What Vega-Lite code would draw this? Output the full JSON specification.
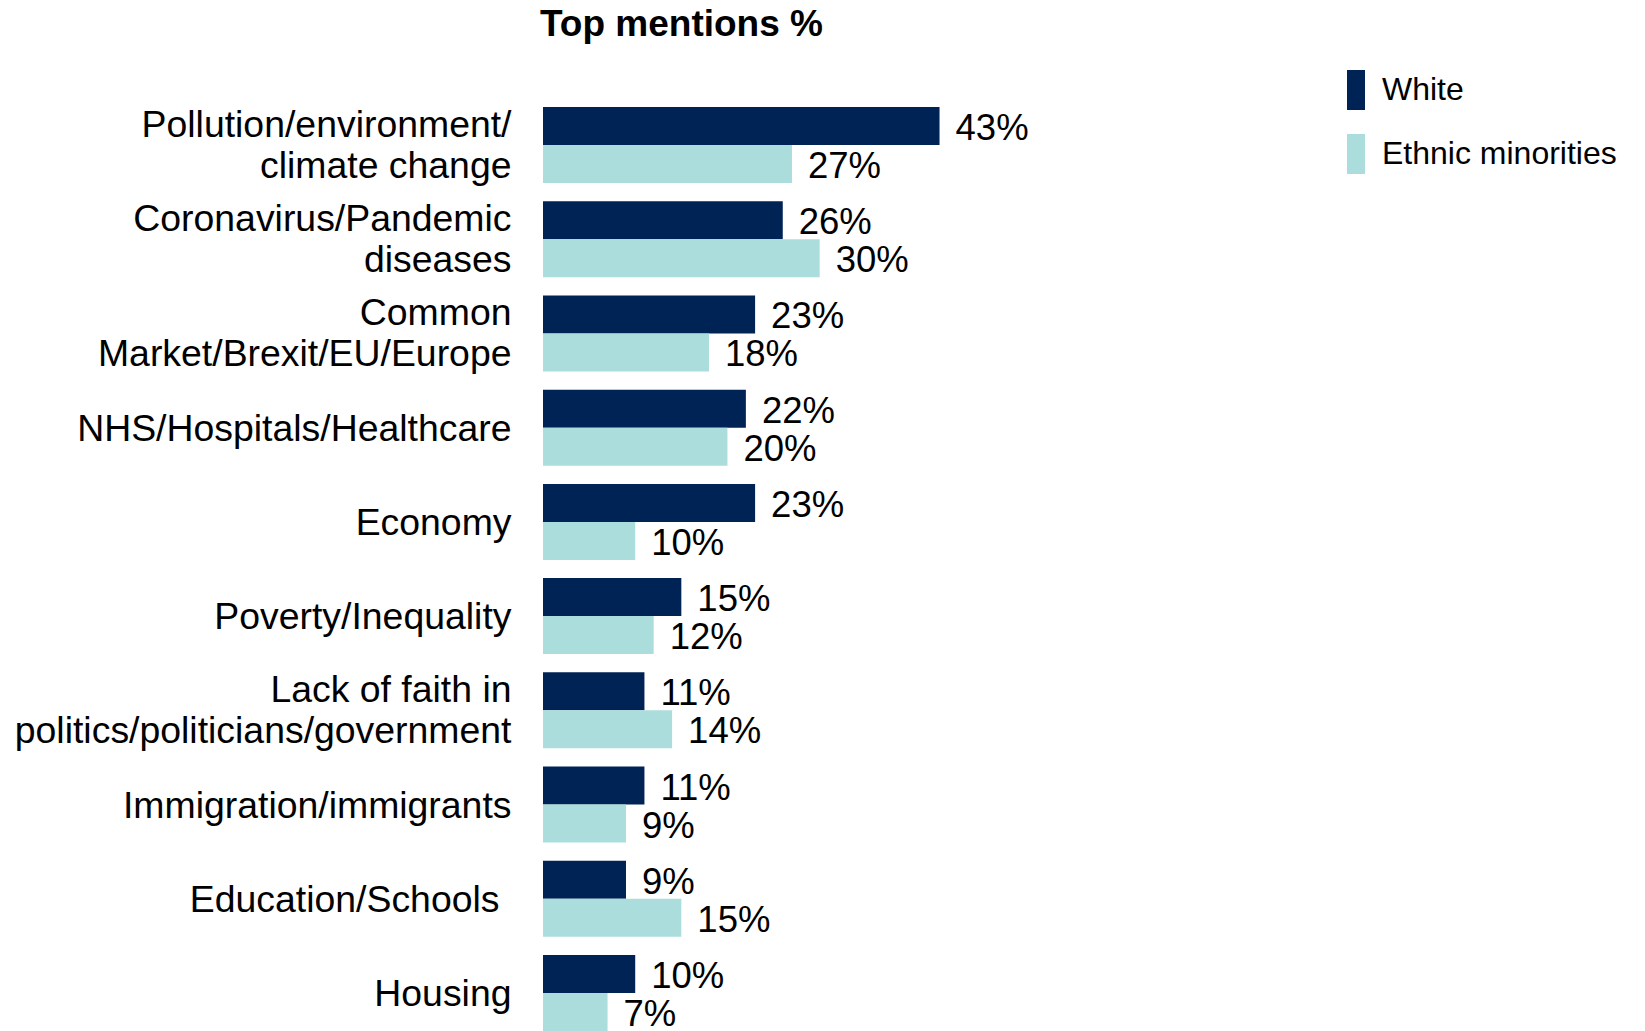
{
  "$schema": "https://vega.github.io/schema/vega-lite/v6.json",
  "width": 1102,
  "height": 924,
  "autosize": {"type": "none"},
  "padding": {"left": 543, "top": 107, "right": 0, "bottom": 0},
  "background": "white",
  "config": {"view": {"stroke": null}, "font": "Liberation Sans"},
  "title": {"text": "Top mentions %", "font": "Liberation Sans", "fontSize": 37, "fontWeight": "bold", "anchor": "start", "frame": "group", "dx": -3, "offset": -3, "baseline": "alphabetic", "color": "black"},
  "data": {
    "values": [
      {"category": "Pollution/environment/\nclimate change", "group": "White", "value": 0.43},
      {"category": "Pollution/environment/\nclimate change", "group": "Ethnic minorities", "value": 0.27},
      {"category": "Coronavirus/Pandemic\ndiseases", "group": "White", "value": 0.26},
      {"category": "Coronavirus/Pandemic\ndiseases", "group": "Ethnic minorities", "value": 0.30},
      {"category": "Common\nMarket/Brexit/EU/Europe", "group": "White", "value": 0.23},
      {"category": "Common\nMarket/Brexit/EU/Europe", "group": "Ethnic minorities", "value": 0.18},
      {"category": "NHS/Hospitals/Healthcare", "group": "White", "value": 0.22},
      {"category": "NHS/Hospitals/Healthcare", "group": "Ethnic minorities", "value": 0.20},
      {"category": "Economy", "group": "White", "value": 0.23},
      {"category": "Economy", "group": "Ethnic minorities", "value": 0.10},
      {"category": "Poverty/Inequality", "group": "White", "value": 0.15},
      {"category": "Poverty/Inequality", "group": "Ethnic minorities", "value": 0.12},
      {"category": "Lack of faith in\npolitics/politicians/government", "group": "White", "value": 0.11},
      {"category": "Lack of faith in\npolitics/politicians/government", "group": "Ethnic minorities", "value": 0.14},
      {"category": "Immigration/immigrants", "group": "White", "value": 0.11},
      {"category": "Immigration/immigrants", "group": "Ethnic minorities", "value": 0.09},
      {"category": "Education/Schools", "group": "White", "value": 0.09},
      {"category": "Education/Schools", "group": "Ethnic minorities", "value": 0.15},
      {"category": "Housing", "group": "White", "value": 0.10},
      {"category": "Housing", "group": "Ethnic minorities", "value": 0.07}
    ]
  },
  "encoding": {
    "y": {
      "field": "category", "type": "nominal", "sort": null,
      "scale": {"paddingInner": 0.1934, "paddingOuter": 0},
      "axis": {
        "title": null, "domain": false, "ticks": false, "labelFontSize": 37.4, "labelFont": "Liberation Sans", "labelColor": "black",
        "labelPadding": {"condition": {"test": "datum.value === 'Education/Schools'", "value": 44}, "value": 32},
        "labelOffset": {"condition": {"test": "indexof(datum.value, '\\n') >= 0", "value": -19}, "value": 2},
        "labelLimit": 0, "labelExpr": "split(datum.label, '\\n')", "labelLineHeight": 41
      }
    },
    "yOffset": {"field": "group", "type": "nominal", "sort": ["White", "Ethnic minorities"], "scale": {"paddingInner": 0, "paddingOuter": 0}},
    "x": {"field": "value", "type": "quantitative", "scale": {"domain": [0, 1.195], "nice": false}, "axis": null}
  },
  "layer": [
    {
      "mark": {"type": "bar"},
      "encoding": {
        "color": {
          "field": "group", "type": "nominal",
          "scale": {"domain": ["White", "Ethnic minorities"], "range": ["#002355", "#acdddd"]},
          "legend": {"orient": "none", "legendX": 793, "legendY": -37, "title": null, "symbolType": "M-0.45,-1H0.45V1H-0.45Z", "symbolSize": 1600, "symbolStrokeWidth": 0, "symbolOpacity": 1, "labelFontSize": 32, "labelFont": "Liberation Sans", "labelOffset": 6, "rowPadding": 24, "labelColor": "black", "labelLimit": 0}
        }
      }
    },
    {
      "mark": {"type": "text", "align": "left", "baseline": "middle", "dx": 16, "dy": 3, "fontSize": 36.5, "font": "Liberation Sans", "color": "black"},
      "encoding": {"text": {"field": "value", "type": "quantitative", "format": ".0%"}}
    }
  ]
}
